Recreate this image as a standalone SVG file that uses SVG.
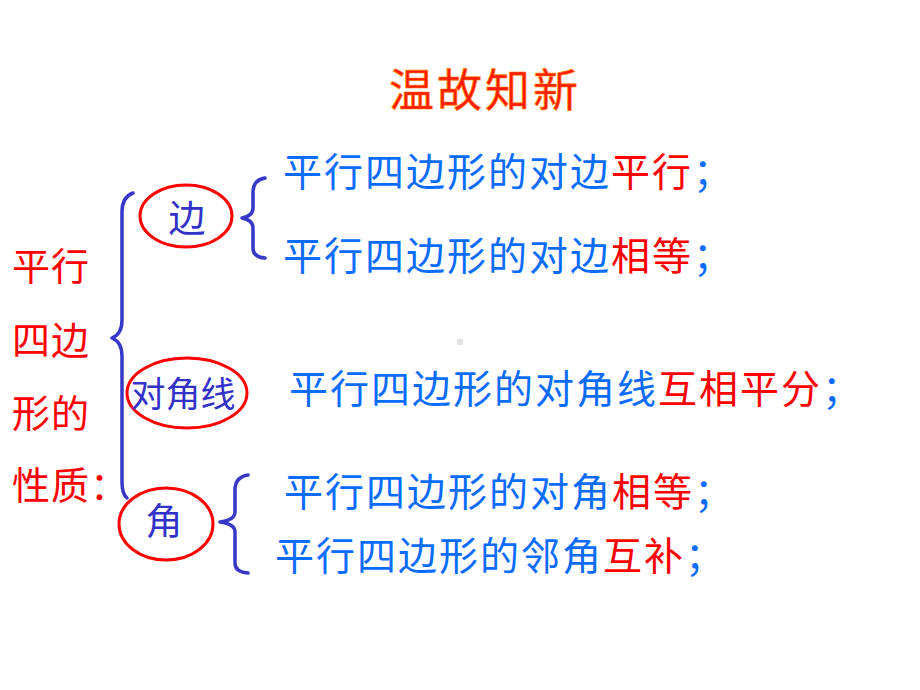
<svg xmlns="http://www.w3.org/2000/svg" width="920" height="690" viewBox="0 0 920 690">
<style>
  text { font-family: "Noto Sans CJK SC", "Noto Sans", sans-serif; }
  .blue { fill: #0a6cff; font-size: 39px; letter-spacing: 2px; }
  .red { fill: #ff0000; }
  .side { fill: #ff0000; font-size: 38px; letter-spacing: 1px; }
  .lbl { fill: #3232c8; }
  .ell { fill: none; stroke: #ff0000; stroke-width: 3; }
  .brace { fill: none; stroke: #3838c8; stroke-width: 3.5; stroke-linecap: round; stroke-linejoin: round; }
</style>
<rect width="920" height="690" fill="#ffffff"/>
<rect x="457" y="339" width="6" height="6" fill="#e2e2e2"/>

<g id="title">
  <text x="389" y="107" font-size="45" letter-spacing="3" fill="#ff1a00" stroke="#ff7a00" stroke-width="0.7">温故知新</text>
</g>

<g id="subject">
  <text class="side" x="12" y="280">平行</text>
  <text class="side" x="12" y="354">四边</text>
  <text class="side" x="12" y="427">形的</text>
  <text class="side" x="12" y="499">性质：</text>
</g>

<g id="connectors">
  <path class="brace" d="M133,193 Q122,197 122,212 L122,320 Q122,334 112,338 Q122,342 122,356 L122,482 Q122,494 127,498"/>
  <path class="brace" d="M265,178 Q253,180 253,192 L253,208 Q253,216 242,218 Q253,220 253,228 L253,248 Q253,257 265,258"/>
  <path class="brace" d="M248,475 Q235,477 235,490 L235,512 Q235,520 220,522 Q235,524 235,532 L235,563 Q235,572 248,573"/>
</g>

<g id="node-bian">
  <ellipse class="ell" cx="186" cy="216" rx="46" ry="31"/>
  <text class="lbl" x="187" y="232" font-size="37" text-anchor="middle">边</text>
</g>

<g id="node-duijiaoxian">
  <ellipse class="ell" cx="187" cy="393" rx="60" ry="35"/>
  <text class="lbl" x="183" y="407" font-size="35" text-anchor="middle">对角线</text>
</g>

<g id="node-jiao">
  <ellipse class="ell" cx="166" cy="524" rx="47" ry="36"/>
  <text class="lbl" x="164" y="535" font-size="37" text-anchor="middle">角</text>
</g>

<g id="line-1">
  <text class="blue" x="283" y="186">平行四边形的对边<tspan class="red">平行</tspan>；</text>
</g>
<g id="line-2">
  <text class="blue" x="283" y="270">平行四边形的对边<tspan class="red">相等</tspan>；</text>
</g>
<g id="line-3">
  <text class="blue" x="289" y="403">平行四边形的对角线<tspan class="red">互相平分</tspan>；</text>
</g>
<g id="line-4">
  <text class="blue" x="284" y="506">平行四边形的对角<tspan class="red">相等</tspan>；</text>
</g>
<g id="line-5">
  <text class="blue" x="275" y="570">平行四边形的邻角<tspan class="red">互补</tspan>；</text>
</g>
</svg>
